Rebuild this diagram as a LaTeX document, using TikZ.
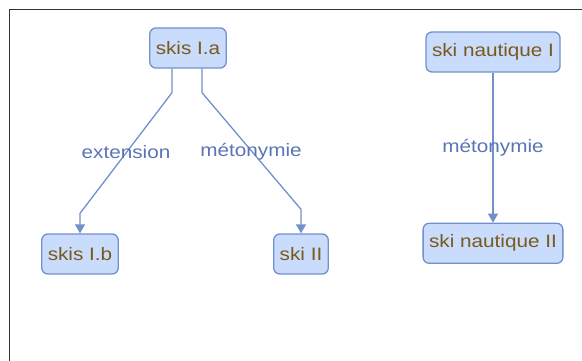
\documentclass[tikz,border=0pt]{standalone}
\usepackage{fontspec}
\setmainfont{Liberation Sans}[FakeStretch=1.15]
\usetikzlibrary{positioning,arrows.meta}
\definecolor{boxfill}{HTML}{C9DCFC}
\definecolor{boxline}{HTML}{7290CC}
\definecolor{boxtext}{HTML}{7A5A1C}
\definecolor{reltext}{HTML}{5A74B4}
\begin{document}
\begin{tikzpicture}[x=1pt,y=-1pt,
  concept/.style={draw=boxline,fill=boxfill,line width=1.3pt,rounded corners=6pt,text=boxtext,font=\fontsize{18}{20}\selectfont,minimum height=40pt,inner xsep=6pt},
  relation/.style={text=reltext,font=\fontsize{18}{20}\selectfont,inner sep=1pt},
  edge/.style={draw=boxline,line width=1.3pt,-{Triangle[length=9pt,width=10pt]}}]

\useasboundingbox (0,0) rectangle (582,361);
\draw[line width=1pt,black!80] (9,361) -- (9,10) -- (582,10);

% concepts
\node[concept] (skisIa) at (188,48) {skis I.a};
\node[concept] (skisIb) at (80,254) {skis I.b};
\node[concept] (skiII) at (301,254) {ski II};
\node[concept] (nautiqueI) at (493,52) {ski nautique I};
\node[concept,below=150pt of nautiqueI] (nautiqueII) {ski nautique II};

% relations
\draw[edge] ([xshift=-16pt]skisIa.south) -- ++(0,24) -- ([yshift=20pt]skisIb.north) -- (skisIb.north);
\draw[edge] ([xshift=14pt]skisIa.south) -- ++(0,24) -- ([yshift=24pt]skiII.north) -- (skiII.north);
\draw[edge] (nautiqueI) -- (nautiqueII);

% labels
\node[relation] (extension) at (126,152) {extension};
\node[relation] (metoA) at (251,152) {métonymie};
\node[relation] (metoB) at (493,148) {métonymie};

\end{tikzpicture}
\end{document}
